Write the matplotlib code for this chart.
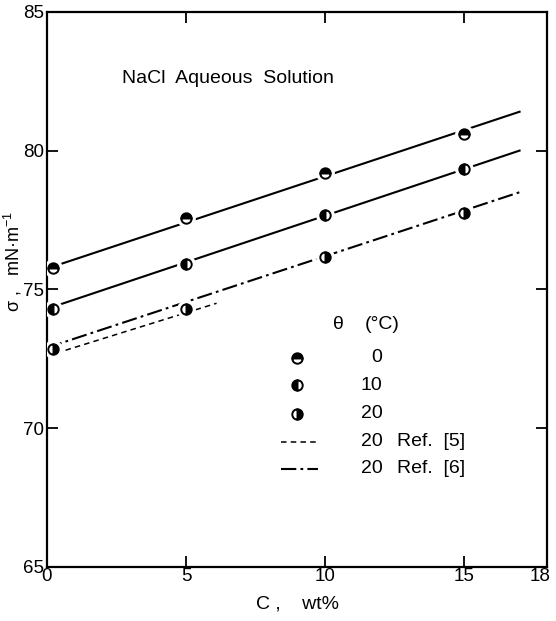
import numpy as np
import matplotlib.pyplot as plt
from matplotlib.lines import Line2D
from matplotlib.transforms import ScaledTranslation

plt.rcParams['font.family'] = ['Liberation Sans', 'DejaVu Sans']
plt.rcParams['mathtext.fontset'] = 'custom'
plt.rcParams['mathtext.rm'] = 'Liberation Sans'
plt.rcParams['lines.scale_dashes'] = False

# 数据
conc = [0.2, 5, 10, 15]
sigma_0 = [75.77, 77.58, 79.2, 80.6]
sigma_10 = [74.3, 75.92, 77.68, 79.34]
sigma_20 = [72.86, 74.3, 76.17, 77.76]

# 拟合直线 (端点)
line_x = [0, 17]
line_0 = [75.75, 81.4]
line_10 = [74.3, 80.0]
ref6_y = [72.9, 78.5]       # Ref. [6], 20 °C
ref5_x = [0, 6.1]
ref5_y = [72.6, 74.5]       # Ref. [5], 20 °C

fig = plt.figure(figsize=(5.56, 6.21), dpi=100)
ax = fig.add_axes([0.0845, 0.087, 0.9, 0.894])

lw = 1.5
ax.plot(line_x, line_0, color='black', lw=lw)
ax.plot(line_x, line_10, color='black', lw=lw)
ax.plot(line_x, ref6_y, color='black', lw=lw, dashes=[11, 3, 2, 3])
ax.plot(ref5_x, ref5_y, color='black', lw=1.1, dashes=[4, 3])

ms = 7.5
mew = 1.4
for ys, fs in [(sigma_0, 'top'), (sigma_10, 'left'), (sigma_20, 'right')]:
    # 白色底用于在线条上留出空隙
    ax.plot(conc, ys, ls='none', marker='o', ms=ms + 5, mfc='white', mec='white', zorder=3)
    ax.plot(conc, ys, ls='none', marker='o', ms=ms, mfc='black', mfcalt='white',
            fillstyle=fs, mec='black', mew=mew, zorder=4)

ax.set_xlim(0, 18)
ax.set_ylim(65, 85)
ax.set_xticks([0, 5, 10, 15, 18])
ax.set_yticks([65, 70, 75, 80, 85])
ax.tick_params(direction='in', length=8, width=1.3, top=True, right=True,
               labelsize=13.5, pad=2)
ax.tick_params(axis='x', pad=1)
for s in ax.spines.values():
    s.set_linewidth(1.6)

# "18" 稍向左移, 以免被裁切
lab18 = ax.get_xticklabels()[-1]
lab18.set_transform(lab18.get_transform() + ScaledTranslation(-5 / 72, 0, fig.dpi_scale_trans))

ax.set_xlabel('C ,    wt%', fontsize=14, labelpad=7)
ax.set_ylabel(r'σ ,   mN·m$^{-1}$', fontsize=13, labelpad=0)
ax.yaxis.set_label_coords(-0.046, 0.55)

ax.text(0.15, 0.88, 'NaCl  Aqueous  Solution', transform=ax.transAxes,
        fontsize=14, va='center', ha='left')

# 图例 (手动排布)
ax.text(0.583, 0.437, 'θ', transform=ax.transAxes, fontsize=14, va='center', ha='center')
ax.text(0.636, 0.437, '(°C)', transform=ax.transAxes, fontsize=14, va='center', ha='left')
rows = [0.377, 0.327, 0.276, 0.226, 0.177]
labels = ['0', '10', '20', '20', '20']
refs = ['', '', '', 'Ref.  [5]', 'Ref.  [6]']
fills = ['top', 'left', 'right']
for i, yy in enumerate(rows):
    if i < 3:
        ax.add_line(Line2D([0.5, ], [yy], ls='none', marker='o', ms=ms, mfc='black',
                           mfcalt='white', fillstyle=fills[i], mec='black', mew=mew,
                           transform=ax.transAxes))
    elif i == 3:
        ax.add_line(Line2D([0.468, 0.542], [yy, yy], color='black', lw=1.1,
                           dashes=[4, 3], transform=ax.transAxes))
    else:
        ax.add_line(Line2D([0.468, 0.542], [yy, yy], color='black', lw=lw,
                           dashes=[11, 3, 2, 3], transform=ax.transAxes))
    ax.text(0.67, yy, labels[i], transform=ax.transAxes, fontsize=14,
            va='center', ha='right')
    if refs[i]:
        ax.text(0.7, yy, refs[i], transform=ax.transAxes, fontsize=14,
                va='center', ha='left')

fig.savefig('out.png', dpi=100)
